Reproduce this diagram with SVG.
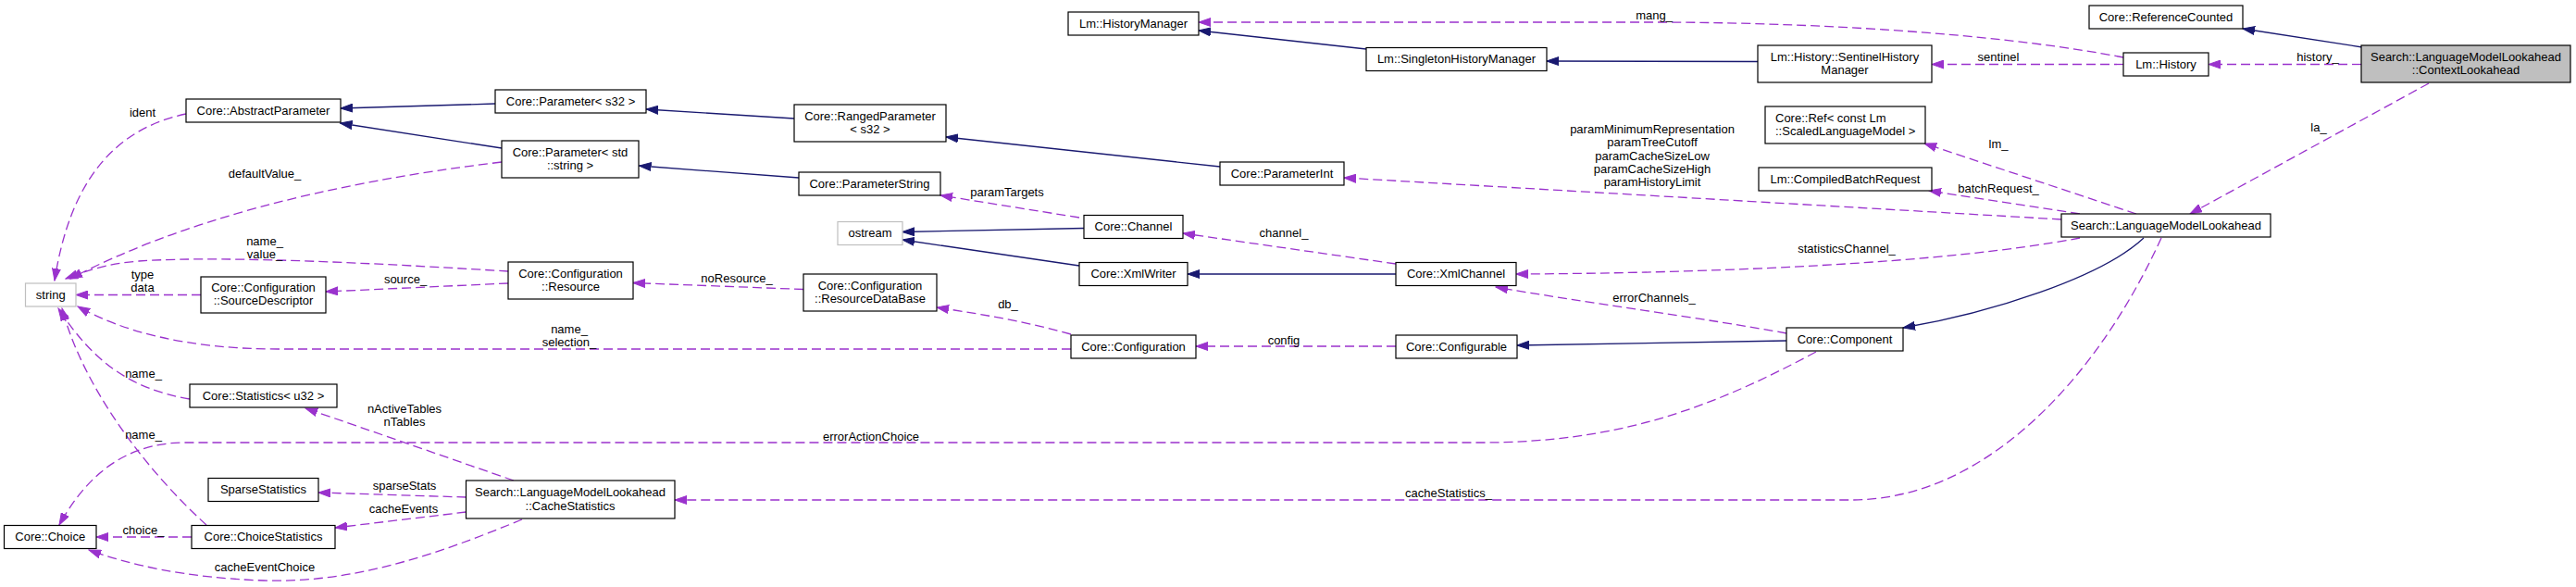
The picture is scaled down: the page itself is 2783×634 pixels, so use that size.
<svg xmlns="http://www.w3.org/2000/svg" width="2783" height="634" viewBox="0 0 2783 634">
<style>
text{font-family:"Liberation Sans",Arial,Helvetica,sans-serif;font-size:13px;fill:#000}
.nd rect{fill:#fff;stroke:#000;stroke-width:1.2}
.nd text{text-anchor:middle}
.gr rect{stroke:#bfbfbf}
.cur rect{fill:#bfbfbf}
.inh{fill:none;stroke:#191970;stroke-width:1.3;marker-end:url(#ai)}
.use{fill:none;stroke:#9a32cd;stroke-width:1.3;stroke-dasharray:10,5;marker-end:url(#au)}
.lb text{text-anchor:middle}
</style>
<defs>
<marker id="ai" markerUnits="userSpaceOnUse" markerWidth="14" markerHeight="10" viewBox="0 0 14 10" refX="13" refY="5" orient="auto"><path d="M0,0.5 L13,5 L0,9.5 z" fill="#191970" stroke="#191970"/></marker>
<marker id="au" markerUnits="userSpaceOnUse" markerWidth="14" markerHeight="10" viewBox="0 0 14 10" refX="13" refY="5" orient="auto"><path d="M0,0.5 L13,5 L0,9.5 z" fill="#9a32cd" stroke="#9a32cd"/></marker>
</defs>
<rect width="2783" height="634" fill="#fff"/>
<g id="connectors">
<path class="inh" d="M2552,51 L2423,31"/>
<path class="inh" d="M1476,53 L1295,33"/>
<path class="inh" d="M1899,66.5 L1671,66"/>
<path class="inh" d="M535,112 L368,117"/>
<path class="inh" d="M542,160 L367.5,133"/>
<path class="inh" d="M858,128 L698,118"/>
<path class="inh" d="M863,192 L690.5,179"/>
<path class="inh" d="M1318,180 L1022,148"/>
<path class="inh" d="M1508,296 L1283,296"/>
<path class="inh" d="M1166,287 L975,259"/>
<path class="inh" d="M1171,246.5 L975,250.5"/>
<path class="inh" d="M1930,368 L1639,373"/>
<path class="inh" d="M2316,257 C2270,300 2150,338 2056,354"/>
<path class="use" d="M2294,62 C2180,40 2000,25 1800,24 L1295,24"/>
<path class="use" d="M2294,69.5 L2087,69.5"/>
<path class="use" d="M2551,69.5 L2386,69.5"/>
<path class="use" d="M2624,90 L2366,231"/>
<path class="use" d="M2308,231 L2079,155"/>
<path class="use" d="M2247,231 L2084,206"/>
<path class="use" d="M2227,237 L1452,192"/>
<path class="use" d="M2247,257 C2100,285 1850,295 1638,296"/>
<path class="use" d="M1930,360 C1850,345 1700,325 1616,310"/>
<path class="use" d="M1508,285 L1278,252"/>
<path class="use" d="M1166,235 L1016,211"/>
<path class="use" d="M1508,374 L1292,374"/>
<path class="use" d="M1157,361 C1100,345 1050,338 1012,332"/>
<path class="use" d="M868,312.5 L684,305.5"/>
<path class="use" d="M549,306 L352,315"/>
<path class="use" d="M549,293 C450,287 250,275 150,282 C115,285 95,292 71,301"/>
<path class="use" d="M217,318.5 L82,318.5"/>
<path class="use" d="M1157,377 L300,377 C200,377 130,357 84,331"/>
<path class="use" d="M542,175 Q250,210 76,301"/>
<path class="use" d="M201,123 C120,140 75,200 59,303"/>
<path class="use" d="M205,431 C140,420 100,390 63,333"/>
<path class="use" d="M223,567 C160,510 90,420 67,333"/>
<path class="use" d="M1962,380 C1850,440 1750,478 1600,478 L200,478 C130,478 90,520 64,567"/>
<path class="use" d="M2335,257 C2270,400 2150,540 2000,540 L729,540"/>
<path class="use" d="M555,519 C500,500 400,465 330,441"/>
<path class="use" d="M503.5,537 L344,532"/>
<path class="use" d="M503.5,553 L362,570"/>
<path class="use" d="M564,561 C470,600 380,630 285,627 C200,624 140,610 96,594"/>
<path class="use" d="M207,580 L104,580"/>
<g class="lb">
<text x="1787" y="20.5">mang_</text>
<text x="2159" y="65.5">sentinel</text>
<text x="2504" y="65.5">history_</text>
<text x="2505" y="141.5">la_</text>
<text x="2159" y="159.5">lm_</text>
<text x="2159" y="207.5">batchRequest_</text>
<text x="1785" y="144">paramMinimumRepresentation</text>
<text x="1785" y="158.2">paramTreeCutoff</text>
<text x="1785" y="172.5">paramCacheSizeLow</text>
<text x="1785" y="186.8">paramCacheSizeHigh</text>
<text x="1785" y="201">paramHistoryLimit</text>
<text x="1995" y="272.5">statisticsChannel_</text>
<text x="1787" y="325.5">errorChannels_</text>
<text x="1387" y="255.5">channel_</text>
<text x="1387" y="371.5">config</text>
<text x="1088" y="211.5">paramTargets</text>
<text x="1089" y="333">db_</text>
<text x="796" y="304.5">noResource_</text>
<text x="438" y="305.5">source_</text>
<text x="286" y="264.5">name_</text>
<text x="286" y="278.5">value_</text>
<text x="154" y="300.5">type</text>
<text x="154" y="314.5">data</text>
<text x="154" y="125.5">ident</text>
<text x="286" y="191.5">defaultValue_</text>
<text x="615" y="359.5">name_</text>
<text x="615" y="373.5">selection_</text>
<text x="941" y="475.5">errorActionChoice</text>
<text x="155" y="407.5">name_</text>
<text x="437" y="445.5">nActiveTables</text>
<text x="437" y="459.5">nTables</text>
<text x="155" y="473.5">name_</text>
<text x="437" y="528.5">sparseStats</text>
<text x="436" y="553.5">cacheEvents</text>
<text x="155" y="576.5">choice_</text>
<text x="286" y="616.5">cacheEventChoice</text>
<text x="1565" y="536.5">cacheStatistics_</text>
</g>
</g>
<g id="n_ctx" class="nd cur"><rect x="2551" y="49" width="226" height="40"/><text x="2664" y="65.5">Search::LanguageModelLookahead</text><text x="2664" y="79.5">::ContextLookahead</text></g>
<g id="n_refcnt" class="nd"><rect x="2257" y="6" width="166" height="25"/><text x="2340" y="22.5">Core::ReferenceCounted</text></g>
<g id="n_history" class="nd"><rect x="2294" y="57" width="92" height="25"/><text x="2340" y="73.5">Lm::History</text></g>
<g id="n_lmla" class="nd"><rect x="2227" y="231" width="226" height="25"/><text x="2340" y="247.5">Search::LanguageModelLookahead</text></g>
<g id="n_sentinel" class="nd"><rect x="1899" y="49" width="188" height="40"/><text x="1993" y="65.5">Lm::History::SentinelHistory</text><text x="1993" y="79.5">Manager</text></g>
<g id="n_ref" class="nd"><rect x="1907" y="115" width="173" height="40"/><text x="1918" y="131.5" style="text-anchor:start">Core::Ref&lt; const Lm</text><text x="1918" y="145.5" style="text-anchor:start">::ScaledLanguageModel &gt;</text></g>
<g id="n_batch" class="nd"><rect x="1900" y="181" width="187" height="25"/><text x="1993.5" y="197.5">Lm::CompiledBatchRequest</text></g>
<g id="n_component" class="nd"><rect x="1930" y="354" width="126" height="25"/><text x="1993" y="370.5">Core::Component</text></g>
<g id="n_singleton" class="nd"><rect x="1476" y="51.5" width="195" height="25"/><text x="1573.5" y="68">Lm::SingletonHistoryManager</text></g>
<g id="n_paramint" class="nd"><rect x="1318" y="175" width="134" height="25"/><text x="1385" y="191.5">Core::ParameterInt</text></g>
<g id="n_xmlchannel" class="nd"><rect x="1508" y="283.5" width="130" height="25"/><text x="1573" y="300">Core::XmlChannel</text></g>
<g id="n_configurable" class="nd"><rect x="1508" y="362" width="131" height="25"/><text x="1573.5" y="378.5">Core::Configurable</text></g>
<g id="n_histmgr" class="nd"><rect x="1154" y="13" width="141" height="25"/><text x="1224.5" y="29.5">Lm::HistoryManager</text></g>
<g id="n_channel" class="nd"><rect x="1171" y="232.5" width="107" height="25"/><text x="1224.5" y="249">Core::Channel</text></g>
<g id="n_xmlwriter" class="nd"><rect x="1166" y="283.5" width="117" height="25"/><text x="1224.5" y="300">Core::XmlWriter</text></g>
<g id="n_configuration" class="nd"><rect x="1157" y="362" width="135" height="25"/><text x="1224.5" y="378.5">Core::Configuration</text></g>
<g id="n_ranged" class="nd"><rect x="858" y="113" width="164" height="40"/><text x="940" y="129.5">Core::RangedParameter</text><text x="940" y="143.5">&lt; s32 &gt;</text></g>
<g id="n_paramstring" class="nd"><rect x="863" y="186" width="153" height="25"/><text x="939.5" y="202.5">Core::ParameterString</text></g>
<g id="n_ostream" class="nd gr"><rect x="905" y="239.5" width="70" height="25"/><text x="940" y="256">ostream</text></g>
<g id="n_resdb" class="nd"><rect x="868" y="296" width="144" height="40"/><text x="940" y="312.5">Core::Configuration</text><text x="940" y="326.5">::ResourceDataBase</text></g>
<g id="n_params32" class="nd"><rect x="535" y="97" width="163" height="25"/><text x="616.5" y="113.5">Core::Parameter&lt; s32 &gt;</text></g>
<g id="n_paramstd" class="nd"><rect x="542" y="152" width="148" height="40"/><text x="616" y="168.5">Core::Parameter&lt; std</text><text x="616" y="182.5">::string &gt;</text></g>
<g id="n_resource" class="nd"><rect x="549" y="283" width="135" height="40"/><text x="616.5" y="299.5">Core::Configuration</text><text x="616.5" y="313.5">::Resource</text></g>
<g id="n_cachestats" class="nd"><rect x="503.5" y="519" width="225.5" height="41"/><text x="616" y="536">Search::LanguageModelLookahead</text><text x="616" y="550.5">::CacheStatistics</text></g>
<g id="n_abstract" class="nd"><rect x="201" y="107" width="167" height="25"/><text x="284.5" y="123.5">Core::AbstractParameter</text></g>
<g id="n_srcdesc" class="nd"><rect x="217" y="299" width="135" height="39"/><text x="284.5" y="315">Core::Configuration</text><text x="284.5" y="329">::SourceDescriptor</text></g>
<g id="n_stats" class="nd"><rect x="205" y="415" width="159" height="25"/><text x="284.5" y="431.5">Core::Statistics&lt; u32 &gt;</text></g>
<g id="n_sparse" class="nd"><rect x="225" y="516.5" width="119" height="25"/><text x="284.5" y="533">SparseStatistics</text></g>
<g id="n_choicestats" class="nd"><rect x="207" y="567.5" width="155" height="25"/><text x="284.5" y="584">Core::ChoiceStatistics</text></g>
<g id="n_string" class="nd gr"><rect x="27.5" y="306" width="54.5" height="25"/><text x="54.75" y="322.5">string</text></g>
<g id="n_choice" class="nd"><rect x="4.5" y="567.5" width="99.5" height="25"/><text x="54.25" y="584">Core::Choice</text></g>
</svg>
